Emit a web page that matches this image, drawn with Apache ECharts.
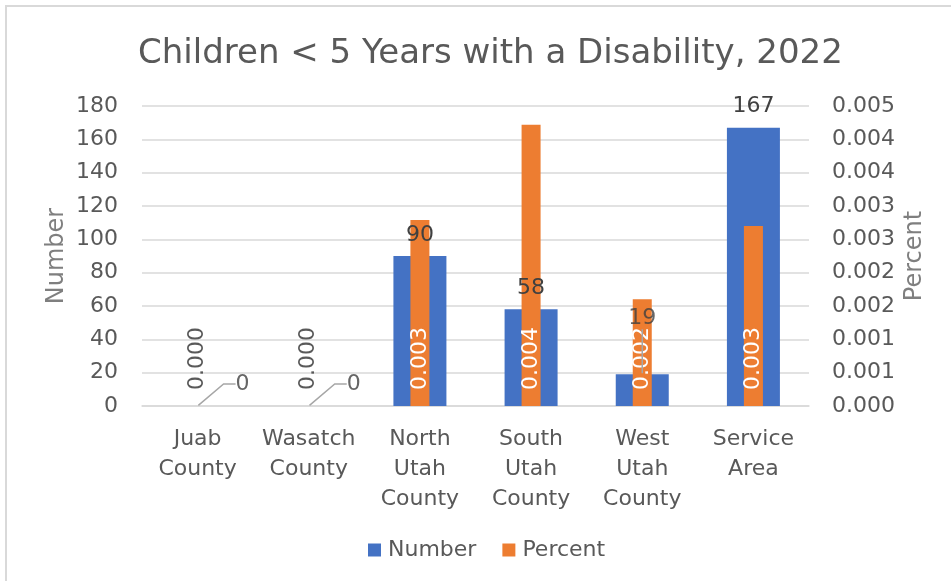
<!DOCTYPE html>
<html>
<head>
<meta charset="utf-8">
<script src="https://cdn.jsdelivr.net/npm/echarts@6/dist/echarts.min.js"></script>
<style>
html,body{margin:0;padding:0;background:#fff;overflow:hidden;width:951px;height:581px;}
#frame{position:absolute;left:5px;top:5px;width:2000px;height:2000px;border-left:2px solid #d9d9d9;border-top:2px solid #d9d9d9;}
#chart{position:absolute;left:0;top:0;width:951px;height:581px;}
</style>
</head>
<body>
<div id="frame"></div>
<div id="chart"></div>
<script>
// ---- data ----
const categories = ['Juab County', 'Wasatch County', 'North Utah County', 'South Utah County', 'West Utah County', 'Service Area'];
const numberVals = [0, 0, 90, 58, 19, 167];
const percentVals = [0, 0, 0.00279, 0.00422, 0.0016, 0.0027];
const numberTicks = [0, 20, 40, 60, 80, 100, 120, 140, 160, 180];
const percentTicks = [0, 0.0005, 0.001, 0.0015, 0.002, 0.0025, 0.003, 0.0035, 0.004, 0.0045];

// ---- styles / layout ----
const FONT = 'DejaVu Sans';
const TXT = '#595959';
const GRID = '#d9d9d9';
// Number labels that were dragged away from their bars (drawn with a leader line)
const movedLabels = {
  'Juab County': { dx: 45, dy: 0 },
  'Wasatch County': { dx: 45, dy: 0 },
  'West Utah County': { dx: 0, dy: -34 }
};

function fmt3(v) {
  return (Math.round(Math.round(v * 1e4) / 10) / 1000).toFixed(3);
}

const chart = echarts.init(document.getElementById('chart'), null, { renderer: 'canvas' });
const option = {
  animation: false,
  textStyle: { fontFamily: FONT },
  title: {
    text: 'Children < 5 Years with a Disability, 2022',
    left: 133, top: 32,
    textStyle: { fontFamily: FONT, fontSize: 34, fontWeight: 'normal', color: TXT }
  },
  legend: {
    bottom: 15, left: 363,
    itemWidth: 13, itemHeight: 13, itemGap: 26,
    icon: 'rect',
    data: ['Number', 'Percent'],
    textStyle: { fontFamily: FONT, fontSize: 22, color: TXT, padding: [0, 0, 0, 2] }
  },
  grid: { left: 142, right: 142, top: 106, bottom: 175 },
  xAxis: [
    {
      type: 'category', data: categories,
      axisLine: { lineStyle: { color: GRID, width: 1.5 } },
      axisTick: { show: false },
      axisLabel: {
        interval: 0, margin: 18, color: TXT, fontFamily: FONT, fontSize: 22, lineHeight: 30,
        formatter: s => s.split(' ').join('\n')
      }
    },
    { type: 'category', data: categories, show: false }
  ],
  yAxis: [
    {
      type: 'value', min: numberTicks[0], max: numberTicks[numberTicks.length - 1],
      interval: numberTicks[1] - numberTicks[0],
      name: 'Number', nameLocation: 'middle', nameGap: 73, nameMoveOverlap: false,
      nameTextStyle: { fontFamily: FONT, fontSize: 24, color: '#7f7f7f' },
      axisLine: { show: false }, axisTick: { show: false },
      axisLabel: { margin: 24, color: TXT, fontFamily: FONT, fontSize: 22 },
      splitLine: { lineStyle: { color: GRID, width: 1.5 } }
    },
    {
      type: 'value', min: percentTicks[0], max: percentTicks[percentTicks.length - 1],
      interval: percentTicks[1] - percentTicks[0],
      name: 'Percent', nameLocation: 'middle', nameGap: 94, nameMoveOverlap: false,
      nameTextStyle: { fontFamily: FONT, fontSize: 24, color: '#7f7f7f' },
      axisLine: { show: false }, axisTick: { show: false },
      axisLabel: { margin: 23, color: TXT, fontFamily: FONT, fontSize: 22, formatter: fmt3 },
      splitLine: { show: false }
    }
  ],
  series: [
    {
      name: 'Number', type: 'bar', xAxisIndex: 0, yAxisIndex: 0,
      barWidth: 53,
      itemStyle: { color: '#4472c4' },
      data: numberVals,
      label: {
        show: true, position: 'top', distance: 10,
        color: '#404040', fontFamily: FONT, fontSize: 22,
        formatter: p => movedLabels[categories[p.dataIndex]] ? '' : String(p.value)
      },
      z: 3
    },
    {
      name: 'Percent', type: 'bar', xAxisIndex: 1, yAxisIndex: 1,
      barWidth: 19,
      itemStyle: { color: '#ed7d31' },
      data: percentVals.map(v => v === 0 ? { value: v, label: { color: TXT } } : v),
      label: {
        show: true, position: 'insideBottom', distance: 16, rotate: 90,
        align: 'left', verticalAlign: 'middle',
        color: '#ffffff', fontFamily: FONT, fontSize: 22,
        formatter: p => fmt3(p.value)
      },
      z: 3
    },
    {
      name: 'movedNumberLabels', type: 'scatter', xAxisIndex: 0, yAxisIndex: 0,
      symbol: 'circle', symbolSize: 2, silent: true,
      itemStyle: { color: 'rgba(0,0,0,0)' },
      data: numberVals.map((v, i) => movedLabels[categories[i]] ? [categories[i], v] : '-'),
      label: {
        show: true, position: 'top', distance: 10, padding: [0, 6],
        color: '#404040', fontFamily: FONT, fontSize: 22,
        formatter: p => String(p.value[1])
      },
      labelLine: { show: true, length2: 12, lineStyle: { color: '#a6a6a6', width: 1.5 } },
      labelLayout: p => {
        const m = movedLabels[categories[p.dataIndex]] || { dx: 0, dy: 0 };
        return { dx: m.dx, dy: m.dy };
      },
      z: 5
    }
  ]
};
chart.setOption(option);
</script>
</body>
</html>
